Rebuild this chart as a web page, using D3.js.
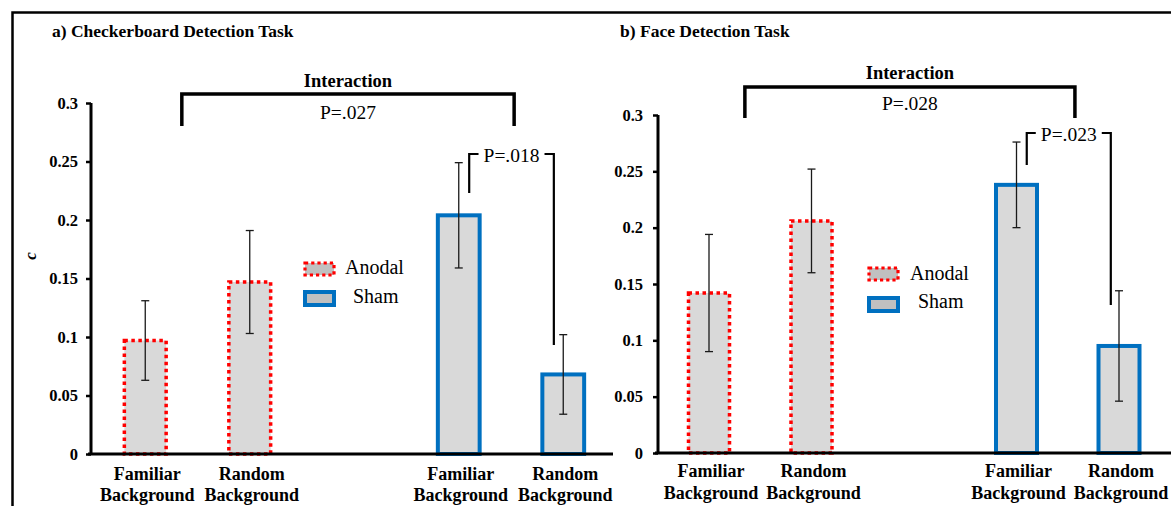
<!DOCTYPE html>
<html>
<head>
<meta charset="utf-8">
<script src="https://cdn.jsdelivr.net/npm/d3@7"></script>
<style>
  html, body { margin: 0; padding: 0; background: #fff; }
  svg { display: block; font-family: "Liberation Serif", "Times New Roman", serif; }
</style>
</head>
<body>
<svg id="chart" width="1171" height="506"></svg>
<script>
// ---------- data ----------
const categories = ["Familiar Background", "Random Background", "Familiar Background", "Random Background"];
const conditions = ["Anodal", "Anodal", "Sham", "Sham"];
const slots = [0, 1, 3, 4];
const checkerMeans = [0.097, 0.147, 0.204, 0.068];
const checkerErrors = [0.034, 0.044, 0.045, 0.034];
const faceMeans = [0.142, 0.206, 0.238, 0.095];
const faceErrors = [0.052, 0.046, 0.038, 0.049];
const yTicks = [0, 0.05, 0.1, 0.15, 0.2, 0.25, 0.3];
const yTickLabels = ["0", "0.05", "0.1", "0.15", "0.2", "0.25", "0.3"];
const legendLabels = ["Anodal", "Sham"];
const panelTitles = ["a) Checkerboard Detection Task", "b) Face Detection Task"];
const interactionP = ["P=.027", "P=.028"];
const pairP = ["P=.018", "P=.023"];

// ---------- styles ----------
const FILL = "#d9d9d9";
const RED = "#ff0000";
const BLUE = "#0070c0";
const FONT = "Liberation Serif, Times New Roman, serif";

const svg = d3.select("#chart");

// outer frame
svg.append("path")
  .attr("d", "M12.5,506 V12.5 H1171")
  .attr("fill", "none").attr("stroke", "#000").attr("stroke-width", 2.5);

const panels = [
  {
    title: panelTitles[0], titleX: 52, titleY: 37,
    means: checkerMeans, errs: checkerErrors,
    xRange: [93, 615.5], axisX: 91, axisEnd: 613, yRange: [454, 103],
    tickLabelX: 78,
    labelY: [480, 501],
    yLabel: true,
    inter: { y: 94, bottom: 126, s0: 0.35, s1: 3.53, titleY: 87, pY: 119, p: interactionP[0] },
    pair: { top: 154, leftBottom: 193, rightBottom: 345, s0: 3.10, s1: 3.91, textY: 162, p: pairP[0] },
    legend: { x: 305, y: [263, 292], textX: [345, 353], textY: [274, 303] }
  },
  {
    title: panelTitles[1], titleX: 620, titleY: 37,
    means: faceMeans, errs: faceErrors,
    xRange: [657.75, 1170.25], axisX: 658, axisEnd: 1171, yRange: [453, 115],
    tickLabelX: 643,
    labelY: [477, 499],
    yLabel: false,
    inter: { y: 87, bottom: 118, s0: 0.35, s1: 3.57, titleY: 79, pY: 110, p: interactionP[1] },
    pair: { top: 133, leftBottom: 165, rightBottom: 305, s0: 3.10, s1: 3.92, textY: 141, p: pairP[1] },
    legend: { x: 869, y: [268, 298], textX: [910, 918], textY: [280, 308] }
  }
];

panels.forEach(p => {
  const g = svg.append("g").attr("font-family", FONT);
  const x = d3.scaleLinear().domain([-0.5, 4.5]).range(p.xRange);
  const y = d3.scaleLinear().domain([0, 0.3]).range(p.yRange);
  const slotW = x(1) - x(0);
  const barW = slotW * 0.4;

  // title
  g.append("text").attr("x", p.titleX).attr("y", p.titleY)
    .attr("font-size", 17.5).attr("font-weight", "bold").text(p.title);

  // bars
  const data = categories.map((c, i) => ({ c, cond: conditions[i], slot: slots[i], v: p.means[i], e: p.errs[i] }));
  g.selectAll("rect.bar").data(data).enter().append("rect")
    .attr("class", "bar")
    .attr("x", d => x(d.slot) - barW / 2)
    .attr("width", barW)
    .attr("y", d => y(d.v))
    .attr("height", d => y(0) - y(d.v))
    .attr("fill", FILL)
    .attr("stroke", d => d.cond === "Anodal" ? RED : BLUE)
    .attr("stroke-width", d => d.cond === "Anodal" ? 3.5 : 4)
    .attr("stroke-dasharray", d => d.cond === "Anodal" ? "3.5,3.5" : null);

  // error bars
  const eb = g.selectAll("g.err").data(data).enter().append("g").attr("class", "err")
    .attr("stroke", "#1a1a1a").attr("stroke-width", 1.3);
  eb.append("line").attr("x1", d => x(d.slot)).attr("x2", d => x(d.slot))
    .attr("y1", d => y(d.v + d.e)).attr("y2", d => y(d.v - d.e));
  eb.append("line").attr("x1", d => x(d.slot) - 4).attr("x2", d => x(d.slot) + 4)
    .attr("y1", d => y(d.v + d.e)).attr("y2", d => y(d.v + d.e));
  eb.append("line").attr("x1", d => x(d.slot) - 4).attr("x2", d => x(d.slot) + 4)
    .attr("y1", d => y(d.v - d.e)).attr("y2", d => y(d.v - d.e));

  // y axis
  const yAxis = d3.axisLeft(y).tickValues(yTicks).tickSize(5)
    .tickFormat((d, i) => yTickLabels[i]);
  const ya = g.append("g").attr("transform", `translate(${p.axisX},0)`).call(yAxis)
    .attr("font-family", FONT);
  ya.select(".domain").attr("d", `M0,${y(0.3)}V${y(0)}`).attr("stroke", "#000").attr("stroke-width", 3);
  ya.selectAll(".tick line").attr("stroke", "#000").attr("stroke-width", 2.5);
  ya.selectAll(".tick text")
    .attr("x", p.tickLabelX - p.axisX)
    .attr("font-size", 16.5).attr("font-weight", "bold").attr("fill", "#000");

  // x axis line
  g.append("line").attr("x1", p.axisX - 3).attr("x2", p.axisEnd)
    .attr("y1", y(0)).attr("y2", y(0)).attr("stroke", "#000").attr("stroke-width", 3);

  // x labels
  const xl = g.selectAll("text.xl").data(data).enter().append("text").attr("class", "xl")
    .attr("text-anchor", "middle").attr("font-size", 18).attr("font-weight", "bold");
  xl.append("tspan").attr("x", d => x(d.slot) + 2).attr("y", p.labelY[0]).text(d => d.c.split(" ")[0]);
  xl.append("tspan").attr("x", d => x(d.slot) + 2).attr("y", p.labelY[1]).text(d => d.c.split(" ")[1]);

  // y label
  if (p.yLabel) {
    g.append("text").attr("transform", "translate(36,256) rotate(-90)")
      .attr("text-anchor", "middle").attr("font-size", 17)
      .attr("font-style", "italic").attr("font-weight", "bold").text("c");
  }

  // interaction bracket
  const ix0 = x(p.inter.s0), ix1 = x(p.inter.s1);
  g.append("path")
    .attr("d", `M${ix0},${p.inter.bottom}V${p.inter.y}H${ix1}V${p.inter.bottom}`)
    .attr("fill", "none").attr("stroke", "#000").attr("stroke-width", 3.5);
  g.append("text").attr("x", (ix0 + ix1) / 2).attr("y", p.inter.titleY)
    .attr("text-anchor", "middle").attr("font-size", 18.5).attr("font-weight", "bold").text("Interaction");
  g.append("text").attr("x", (ix0 + ix1) / 2).attr("y", p.inter.pY)
    .attr("text-anchor", "middle").attr("font-size", 19.5).text(p.inter.p);

  // pair bracket
  const px0 = x(p.pair.s0), px1 = x(p.pair.s1);
  const pmid = (px0 + px1) / 2;
  const halfGap = 33;
  g.append("path")
    .attr("d", `M${px0},${p.pair.leftBottom}V${p.pair.top}H${pmid - halfGap}`)
    .attr("fill", "none").attr("stroke", "#000").attr("stroke-width", 2.2);
  g.append("path")
    .attr("d", `M${pmid + halfGap},${p.pair.top}H${px1}V${p.pair.rightBottom}`)
    .attr("fill", "none").attr("stroke", "#000").attr("stroke-width", 2.2);
  g.append("text").attr("x", pmid).attr("y", p.pair.textY)
    .attr("text-anchor", "middle").attr("font-size", 19.5).text(p.pair.p);

  // legend
  legendLabels.forEach((lab, i) => {
    const anodal = lab === "Anodal";
    g.append("rect").attr("x", p.legend.x).attr("y", p.legend.y[i])
      .attr("width", 29).attr("height", anodal ? 12 : 13)
      .attr("fill", "#c0c0c0")
      .attr("stroke", anodal ? RED : BLUE)
      .attr("stroke-width", anodal ? 3.2 : 4)
      .attr("stroke-dasharray", anodal ? "3.2,3" : null);
    g.append("text").attr("x", p.legend.textX[i]).attr("y", p.legend.textY[i])
      .attr("font-size", 20).text(lab);
  });
});
</script>
</body>
</html>
